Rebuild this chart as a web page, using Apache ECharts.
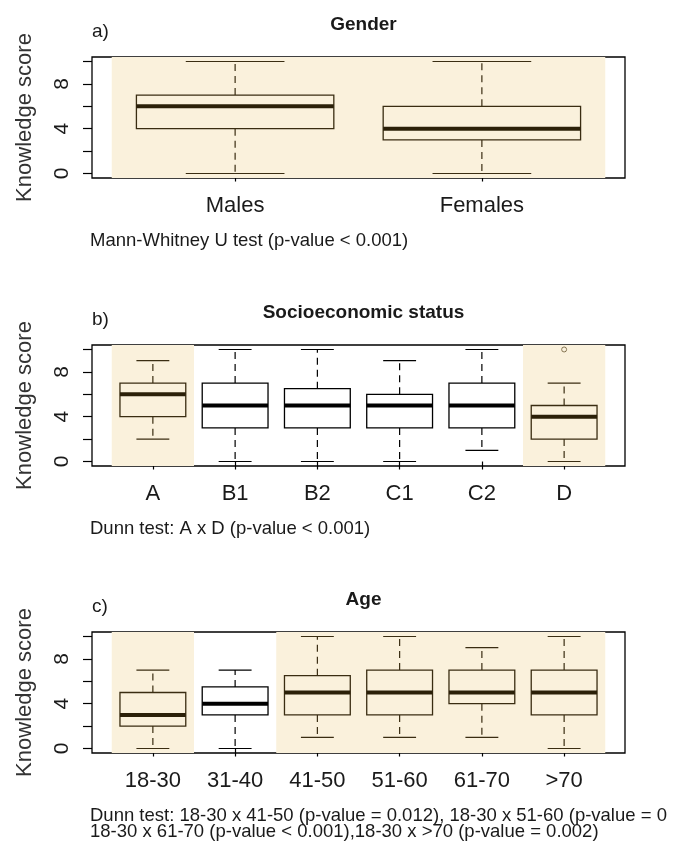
<!DOCTYPE html>
<html>
<head>
<meta charset="utf-8">
<script src="https://cdn.jsdelivr.net/npm/echarts@6/dist/echarts.min.js"></script>
<style>html,body{margin:0;padding:0;background:#fff}#c{width:681px;height:845px}</style>
</head>
<body>
<div id="c"></div>
<script>
// ---- data ----
const yTicks = [0, 2, 4, 6, 8, 10];
const yTickLabels = [0, 4, 8];

const catsA = ['Males', 'Females'];
const boxA = [[0, 4, 6, 7, 10], [0, 3, 4, 6, 10]];
const outA = [];
const shadeA = [[0.5, 2.5]];

const catsB = ['A', 'B1', 'B2', 'C1', 'C2', 'D'];
const boxB = [[2, 4, 6, 7, 9], [0, 3, 5, 7, 10], [0, 3, 5, 6.5, 10], [0, 3, 5, 6, 9], [1, 3, 5, 7, 10], [0, 2, 4, 5, 7]];
const outB = [[6, 10]];
const shadeB = [[0.5, 1.5], [5.5, 6.5]];

const catsC = ['18-30', '31-40', '41-50', '51-60', '61-70', '>70'];
const boxC = [[0, 2, 3, 5, 7], [0, 3, 4, 5.5, 7], [1, 3, 5, 6.5, 10], [1, 3, 5, 7, 10], [1, 4, 5, 7, 9], [0, 3, 5, 7, 10]];
const outC = [];
const shadeC = [[0.5, 1.5], [2.5, 6.5]];

const titles = ['Gender', 'Socioeconomic status', 'Age'];
const tags = ['a)', 'b)', 'c)'];
const notes = [
  'Mann-Whitney U test (p-value < 0.001)',
  'Dunn test: A x D (p-value < 0.001)',
  'Dunn test: 18-30 x 41-50 (p-value = 0.012), 18-30 x 51-60 (p-value = 0\n18-30 x 61-70 (p-value < 0.001),18-30 x >70 (p-value = 0.002)'
];

// ---- style ----
const FONT = '"Liberation Sans", Arial, sans-serif';
const SHADE = '#FAF1DC';
const BROWN = '#3A2D12';
const MED_BROWN = '#2B2008';
const TXT = '#1a1a1a';

const panels = [
  { cats: catsA, box: boxA, out: outA, shade: shadeA, top: 57 },
  { cats: catsB, box: boxB, out: outB, shade: shadeB, top: 345 },
  { cats: catsC, box: boxC, out: outC, shade: shadeC, top: 632 }
];
const GH = 121;
const GL = 92, GR = 56;

const grid = [], xAxis = [], yAxis = [], series = [], graphic = [], title = [];

function isShaded(x, sh) { return sh.some(r => x > r[0] && x < r[1]); }

panels.forEach((p, i) => {
  const n = p.cats.length;
  const pad = 0.04 * n;
  grid.push({ left: GL, right: GR, top: p.top, height: GH, show: true, borderColor: '#000', borderWidth: 1.3, backgroundColor: 'transparent' });
  const idx = p.cats.map((c, k) => k + 1);
  xAxis.push({
    type: 'value', gridIndex: i, min: 0.5 - pad, max: n + 0.5 + pad,
    axisLine: { show: false }, splitLine: { show: false },
    axisTick: { show: true, customValues: idx, length: 8, lineStyle: { color: '#000', width: 1.2 } },
    axisLabel: { show: true, customValues: idx, margin: 17, formatter: v => p.cats[Math.round(v) - 1], fontFamily: FONT, fontSize: 22, color: TXT }
  });
  yAxis.push({
    type: 'value', gridIndex: i, min: -0.4, max: 10.4,
    name: 'Knowledge score', nameLocation: 'middle', nameRotate: 90, nameGap: 56,
    nameTextStyle: { fontFamily: FONT, fontSize: 22, color: '#333' },
    axisLine: { show: false }, splitLine: { show: false },
    axisTick: { show: true, customValues: yTicks, length: 9, lineStyle: { color: '#000', width: 1.2 } },
    axisLabel: { show: true, customValues: yTickLabels, rotate: 90, margin: 19, fontFamily: FONT, fontSize: 21, color: TXT }
  });
  // shading
  series.push({
    type: 'line', xAxisIndex: i, yAxisIndex: i, data: [], silent: true,
    markArea: { silent: true, itemStyle: { color: SHADE }, data: p.shade.map(r => [{ xAxis: r[0] }, { xAxis: r[1] }]) }
  });
  // boxes
  series.push({
    type: 'custom', xAxisIndex: i, yAxisIndex: i, silent: true,
    data: p.box.map((b, k) => [k + 1].concat(b)),
    renderItem: (params, api) => {
      const x = api.value(0);
      const sh = isShaded(x, p.shade);
      const col = sh ? BROWN : '#000';
      const mcol = sh ? MED_BROWN : '#000';
      const fill = sh ? SHADE : '#fff';
      const c = (xx, yy) => api.coord([xx, yy]);
      const [mn, q1, md, q3, mx] = [1, 2, 3, 4, 5].map(j => api.value(j));
      const L = c(x - 0.4, q3), R = c(x + 0.4, q1);
      const children = [];
      const ln = (a, b, dash) => children.push({ type: 'line', shape: { x1: a[0], y1: a[1], x2: b[0], y2: b[1] }, style: { stroke: col, lineWidth: 1.2, lineDash: dash || null } });
      ln(c(x, q3), c(x, mx), [7, 5]);
      ln(c(x, q1), c(x, mn), [7, 5]);
      ln(c(x - 0.2, mx), c(x + 0.2, mx));
      ln(c(x - 0.2, mn), c(x + 0.2, mn));
      children.push({ type: 'rect', shape: { x: L[0], y: L[1], width: R[0] - L[0], height: R[1] - L[1] }, style: { fill: fill, stroke: col, lineWidth: 1.3 } });
      const m1 = c(x - 0.4, md), m2 = c(x + 0.4, md);
      children.push({ type: 'line', shape: { x1: m1[0], y1: m1[1], x2: m2[0], y2: m2[1] }, style: { stroke: mcol, lineWidth: 4 } });
      return { type: 'group', children: children };
    }
  });
  // outliers
  series.push({
    type: 'scatter', xAxisIndex: i, yAxisIndex: i, silent: true, data: p.out,
    symbol: 'circle', symbolSize: 5, itemStyle: { color: 'rgba(0,0,0,0)', borderColor: '#6b5a35', borderWidth: 1 }
  });
  // title
  const cx = GL + (681 - GL - GR) / 2;
  title.push({ text: titles[i], left: cx, top: p.top - 47, textAlign: 'center', textStyle: { fontFamily: FONT, fontSize: 19, fontWeight: 'bold', color: TXT } });
  graphic.push({ type: 'text', left: 92, top: p.top - 35, style: { text: tags[i], fontFamily: FONT, fontSize: 19, fill: TXT } });
  graphic.push({ type: 'text', left: 90, top: p.top + 174, style: { text: notes[i], fontFamily: FONT, fontSize: 18.5, lineHeight: 16, fill: TXT } });
});

const chart = echarts.init(document.getElementById('c'), null, { renderer: 'canvas' });
chart.setOption({ animation: false, backgroundColor: '#fff', grid, xAxis, yAxis, series, title, graphic });
</script>
</body>
</html>
